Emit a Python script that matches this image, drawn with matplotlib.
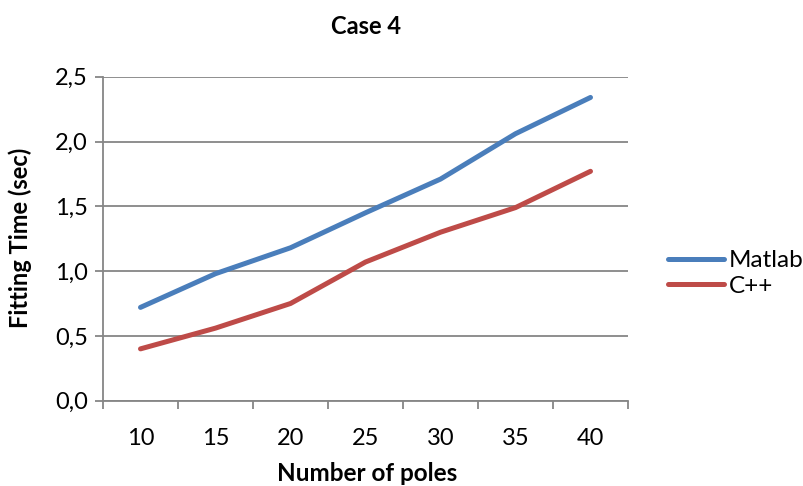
import matplotlib
matplotlib.use("Agg")
import matplotlib.pyplot as plt
from matplotlib.ticker import FuncFormatter, FixedLocator

categories = ["10", "15", "20", "25", "30", "35", "40"]
matlab = [0.72, 0.98, 1.18, 1.45, 1.71, 2.06, 2.34]
cpp = [0.40, 0.56, 0.75, 1.07, 1.30, 1.49, 1.77]
yticks = [0.0, 0.5, 1.0, 1.5, 2.0, 2.5]

plt.rcParams['font.family'] = ['Lato', 'DejaVu Sans']

W, H = 804, 486
fig = plt.figure(figsize=(W / 100, H / 100), dpi=100)
ax = fig.add_axes([103 / W, 1 - 400.7 / H, (628 - 103) / W, (400.7 - 76.7) / H])

x = list(range(len(categories)))
ax.plot(x, matlab, color="#4A7EBB", lw=3.6, solid_capstyle="round", label="Matlab")
ax.plot(x, cpp, color="#BE4B48", lw=3.6, solid_capstyle="round", label="C++")

ax.set_xlim(-0.5, len(categories) - 0.5)
ax.set_ylim(0, 2.5)
ax.set_yticks(yticks)
ax.yaxis.set_major_formatter(FuncFormatter(lambda v, p: f"{v:.1f}".replace(".", ",")))
ax.yaxis.grid(True, color="#868686", lw=1.3)
ax.set_axisbelow(True)

ax.xaxis.set_major_locator(FixedLocator([i - 0.5 for i in range(len(categories) + 1)]))
ax.xaxis.set_minor_locator(FixedLocator(x))
ax.set_xticklabels([])
ax.set_xticklabels(categories, minor=True)
ax.tick_params(axis="x", which="major", length=6, width=1.3, color="#868686", direction="out")
ax.tick_params(axis="x", which="minor", length=0, labelsize=17, pad=20)
ax.tick_params(axis="y", length=6, width=1.3, color="#868686", labelsize=17, pad=5)

for s in ["top", "right"]:
    ax.spines[s].set_visible(False)
for s in ["left", "bottom"]:
    ax.spines[s].set_color("#868686")
    ax.spines[s].set_linewidth(1.3)

fig.text(366 / W, 1 - 27 / H, "Case 4", fontsize=17, fontweight="bold", ha="center", va="center")
fig.text(367 / W, 1 - 473 / H, "Number of poles", fontsize=17.5, fontweight="bold", ha="center", va="center")
fig.text(20 / W, 1 - 238 / H, "Fitting Time (sec)", fontsize=17, fontweight="bold", ha="center", va="center",
         rotation=90)

leg = fig.legend(loc="center left", bbox_to_anchor=(668 / W, 1 - 273.5 / H), frameon=False,
                 fontsize=17.5, handlelength=2.3, handletextpad=0.2, labelspacing=0.2,
                 borderpad=0, borderaxespad=0)

fig.savefig("out.png", dpi=100)
